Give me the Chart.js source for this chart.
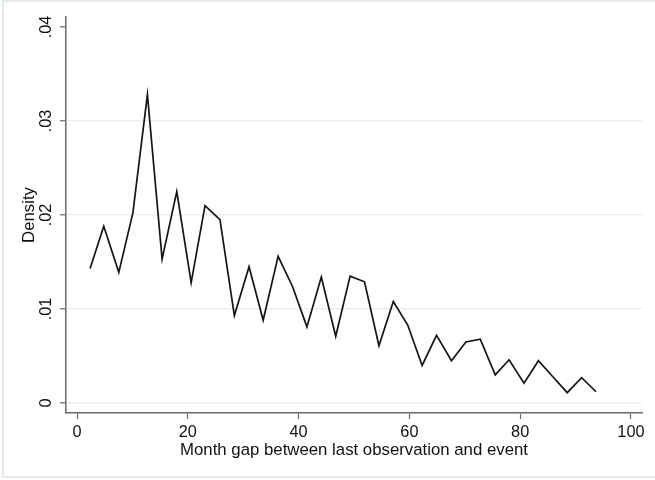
<!DOCTYPE html>
<html>
<head>
<meta charset="utf-8">
<script src="https://cdn.jsdelivr.net/npm/chart.js@4.4.1/dist/chart.umd.min.js"></script>
<style>
  html, body { margin: 0; padding: 0; background: #ffffff; }
  #wrap { position: relative; width: 655px; height: 480px; }
</style>
</head>
<body>
<div id="wrap"><canvas id="c" width="655" height="480"></canvas></div>
<script>
// ---- Data ----
const months = [2.35, 4.82, 7.53, 10.07, 12.70, 15.35, 18.00, 20.60, 23.10, 25.80,
                28.40, 31.05, 33.60, 36.30, 38.90, 41.50, 44.10, 46.70, 49.30, 51.90,
                54.50, 57.10, 59.70, 62.30, 64.90, 67.60, 70.20, 72.80, 75.50, 78.00,
                80.70, 83.30, 85.90, 88.50, 91.10, 93.70];
const density = [0.0143, 0.0188, 0.0139, 0.0202, 0.0328, 0.0153, 0.0225, 0.0128, 0.0210, 0.0195,
                 0.0093, 0.0145, 0.0088, 0.0156, 0.0124, 0.0081, 0.0134, 0.0071, 0.0135, 0.0129,
                 0.0061, 0.0108, 0.0083, 0.0040, 0.0072, 0.0045, 0.0065, 0.0068, 0.0030, 0.0046,
                 0.0021, 0.0045, 0.0028, 0.0011, 0.0027, 0.0012];
const xTicks = [0, 20, 40, 60, 80, 100];
const yTicks = [0, 0.01, 0.02, 0.03, 0.04];
const yTickLabels = ["0", ".01", ".02", ".03", ".04"];
const yGridValues = [0, 0.01, 0.02, 0.03];
const xTitle = "Month gap between last observation and event";
const yTitle = "Density";

const FONT = "'Liberation Sans', Arial, Helvetica, sans-serif";
const TEXT = "#111111";
const AXIS = "#6b6b6b";
const GRID = "#e9f0f1";

const points = months.map((m, i) => ({ x: m, y: density[i] }));

const framePlugin = {
  id: 'frame',
  beforeDraw(chart) {
    const ctx = chart.ctx;
    ctx.save();
    ctx.fillStyle = '#ffffff';
    ctx.fillRect(0, 0, chart.width, chart.height);
    ctx.strokeStyle = '#e3eaee';
    ctx.lineWidth = 2;
    ctx.strokeRect(3, 1, chart.width + 10, 476);
    ctx.restore();
  },
  afterDraw(chart) {
    const ctx = chart.ctx;
    const ys = chart.scales.y;
    const area = chart.chartArea;
    ctx.save();
    ctx.fillStyle = TEXT;
    ctx.font = "16.3px " + FONT;
    ctx.textAlign = 'center';
    ctx.textBaseline = 'middle';
    yTicks.forEach((v, i) => {
      const py = ys.getPixelForValue(v);
      ctx.save();
      ctx.translate(47, py);
      ctx.rotate(-Math.PI / 2);
      ctx.fillText(yTickLabels[i], 0, 0);
      ctx.restore();
    });
    // y title
    ctx.font = "16.8px " + FONT;
    ctx.save();
    ctx.translate(29, (area.top + area.bottom) / 2);
    ctx.rotate(-Math.PI / 2);
    ctx.fillText(yTitle, 0, 0);
    ctx.restore();
    // x title
    ctx.fillText(xTitle, (area.left + area.right) / 2, 450);
    ctx.restore();
  }
};

new Chart(document.getElementById('c'), {
  type: 'line',
  data: {
    datasets: [{
      data: points,
      borderColor: '#151515',
      borderWidth: 1.7,
      pointRadius: 0,
      tension: 0,
      fill: false
    }]
  },
  options: {
    responsive: false,
    animation: false,
    devicePixelRatio: 1,
    layout: { padding: { left: 0, right: 13, top: 17, bottom: 0 } },
    plugins: { legend: { display: false }, tooltip: { enabled: false } },
    scales: {
      x: {
        type: 'linear',
        min: -2,
        max: 102,
        afterBuildTicks(scale) { scale.ticks = xTicks.map(v => ({ value: v })); },
        afterFit(scale) { scale.height = 67; },
        border: { display: true, color: AXIS, width: 1.5 },
        grid: { display: true, drawOnChartArea: false, drawTicks: true, tickLength: 6, tickColor: AXIS, tickWidth: 1.2 },
        ticks: {
          autoSkip: false, maxRotation: 0, minRotation: 0, padding: 4,
          color: TEXT, font: { family: FONT, size: 16.3 },
          callback: (v) => String(v)
        }
      },
      y: {
        type: 'linear',
        min: -0.00106,
        max: 0.04106,
        afterBuildTicks(scale) { scale.ticks = yTicks.map(v => ({ value: v })); },
        afterFit(scale) { scale.width = 66; },
        border: { display: true, color: AXIS, width: 1.5 },
        grid: {
          display: true, drawOnChartArea: true, drawTicks: true, tickLength: 6,
          tickColor: AXIS, tickWidth: 1.2, lineWidth: 1.5,
          color: (c) => (c.tick && yGridValues.includes(c.tick.value)) ? GRID : 'rgba(0,0,0,0)'
        },
        ticks: { color: 'rgba(0,0,0,0)', font: { family: FONT, size: 16 }, padding: 4 }
      }
    }
  },
  plugins: [framePlugin]
});
</script>
</body>
</html>
